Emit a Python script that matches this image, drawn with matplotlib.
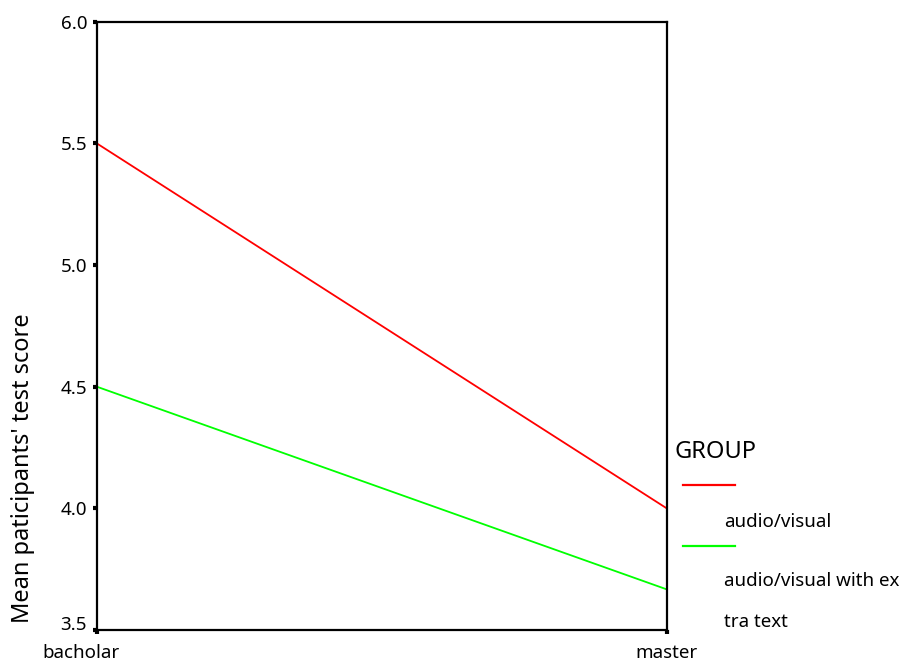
import matplotlib.pyplot as plt
import matplotlib.transforms as mtransforms
from matplotlib.lines import Line2D

plt.rcParams["font.family"] = ["Noto Sans", "DejaVu Sans"]

education = ["bacholar", "master"]
audio_visual = [5.5, 4.0]
audio_visual_text = [4.5, 3.667]
colors = ["#ff0000", "#00ff00"]

fig = plt.figure(figsize=(9.04, 6.63), dpi=100)
ax = fig.add_axes([0.107, 0.0498, 0.6305, 0.9175])

x = range(len(education))
ax.plot(x, audio_visual, color=colors[0], linewidth=1.3)
ax.plot(x, audio_visual_text, color=colors[1], linewidth=1.3)

ax.set_xlim(0, 1)
ax.set_ylim(3.5, 6.0)
ax.set_yticks([3.5, 4.0, 4.5, 5.0, 5.5, 6.0])
ax.set_yticklabels(["3.5", "4.0", "4.5", "5.0", "5.5", "6.0"])
ax.set_xticks(list(x))
ax.set_xticklabels(education)
ax.tick_params(axis="both", direction="out", length=3, width=3, labelsize=13.5, pad=4)
ax.tick_params(axis="x", pad=7)
for s in ax.spines.values():
    s.set_linewidth(1.6)

# first x label sits a bit left of its tick in the original, lowest y label a bit up
lab = ax.get_xticklabels()[0]
lab.set_transform(lab.get_transform() + mtransforms.ScaledTranslation(-16 / 100, 0, fig.dpi_scale_trans))
ylab = ax.get_yticklabels()[0]
ylab.set_transform(ylab.get_transform() + mtransforms.ScaledTranslation(0, 7 / 100, fig.dpi_scale_trans))

fig.text(0.025, 0.06, "Mean paticipants' test score", rotation=90, fontsize=17,
         ha="center", va="bottom")

# legend drawn by hand to match the odd layout
fig.text(0.746, 0.318, "GROUP", fontsize=17, va="center", ha="left")
fig.add_artist(Line2D([0.755, 0.813], [0.268, 0.268], color=colors[0], lw=1.6,
                      transform=fig.transFigure))
fig.text(0.801, 0.212, "audio/visual", fontsize=13.5, va="center")
fig.add_artist(Line2D([0.755, 0.813], [0.176, 0.176], color=colors[1], lw=1.6,
                      transform=fig.transFigure))
fig.text(0.801, 0.124, "audio/visual with ex", fontsize=13.5, va="center")
fig.text(0.801, 0.062, "tra text", fontsize=13.5, va="center")

fig.savefig("out.png", dpi=100)
